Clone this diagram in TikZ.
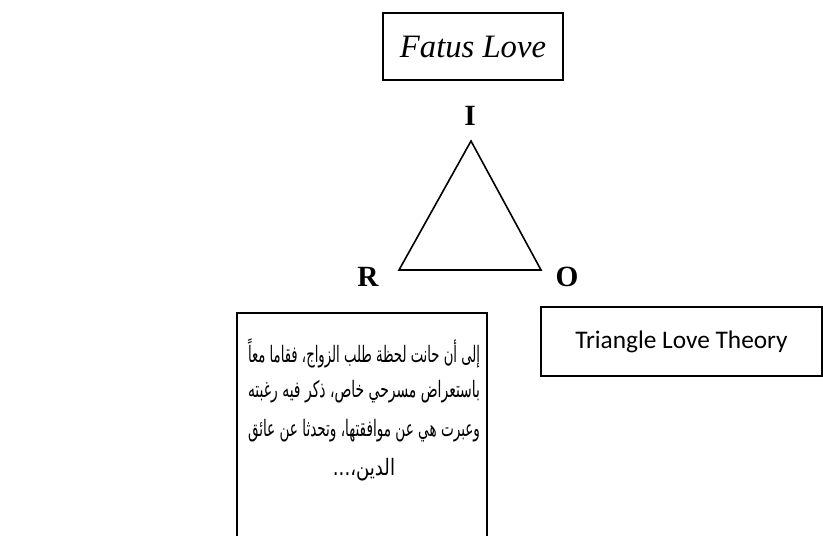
\documentclass[tikz,border=0pt]{standalone}
\usepackage{fontspec}
\usepackage{graphicx}
\setmainfont{Liberation Serif}
\newfontfamily\calibrifont{Carlito}
\newfontfamily\arabicfont[Script=Arabic]{DejaVu Sans}
\TeXXeTstate=1
\newcommand{\arline}[1]{\resizebox{174pt}{\height}{\arabicfont\beginR #1\endR}}

\begin{document}
\begin{tikzpicture}[x=0.75pt,y=-0.75pt,line width=1.4pt,
  framebox/.style={draw,inner sep=0pt},
  arabic/.style={font=\fontsize{17}{21}\selectfont},
  vertex/.style={font=\fontsize{22}{26}\selectfont\bfseries}]
\clip (0,0) rectangle (823,535);
\fill[white] (0,0) rectangle (823,535);
% title box
\node[framebox,minimum width=135pt,minimum height=50pt,font=\fontsize{24.5}{29}\selectfont\itshape] (fatus) at (473,46.5) {Fatus Love};
% triangle
\coordinate (top) at (471,141);
\coordinate (left) at (399,270);
\coordinate (right) at (541,270);
\draw[line join=miter,line width=1.2pt] (top) -- (left) -- (right) -- cycle;
\node[vertex] (I) at (470,116) {I};
\node[vertex] (R) at (368,277) {R};
\node[vertex] (O) at (567,277) {O};
% theory box
\node[framebox,minimum width=211pt,minimum height=52pt,font=\fontsize{19}{23}\calibrifont] (theory) at (681.5,341.5) {Triangle Love Theory};
% arabic box
\coordinate (story) at (237,313);
\draw (story) rectangle (487,560);
\node[arabic] (l1) at (364,353) {\arline{إلى أن حانت لحظة طلب الزواج، فقاما معاً}};
\node[arabic] (l2) at (364,392) {\arline{باستعراض مسرحي خاص، ذكر فيه رغبته}};
\node[arabic] (l3) at (364,431) {\arline{وعبرت هي عن موافقتها، وتحدثا عن عائق}};
\node[arabic] (l4) at (364,470) {\scalebox{0.8}[1]{\arabicfont\beginR الدين،...\endR}};
\end{tikzpicture}
\end{document}
